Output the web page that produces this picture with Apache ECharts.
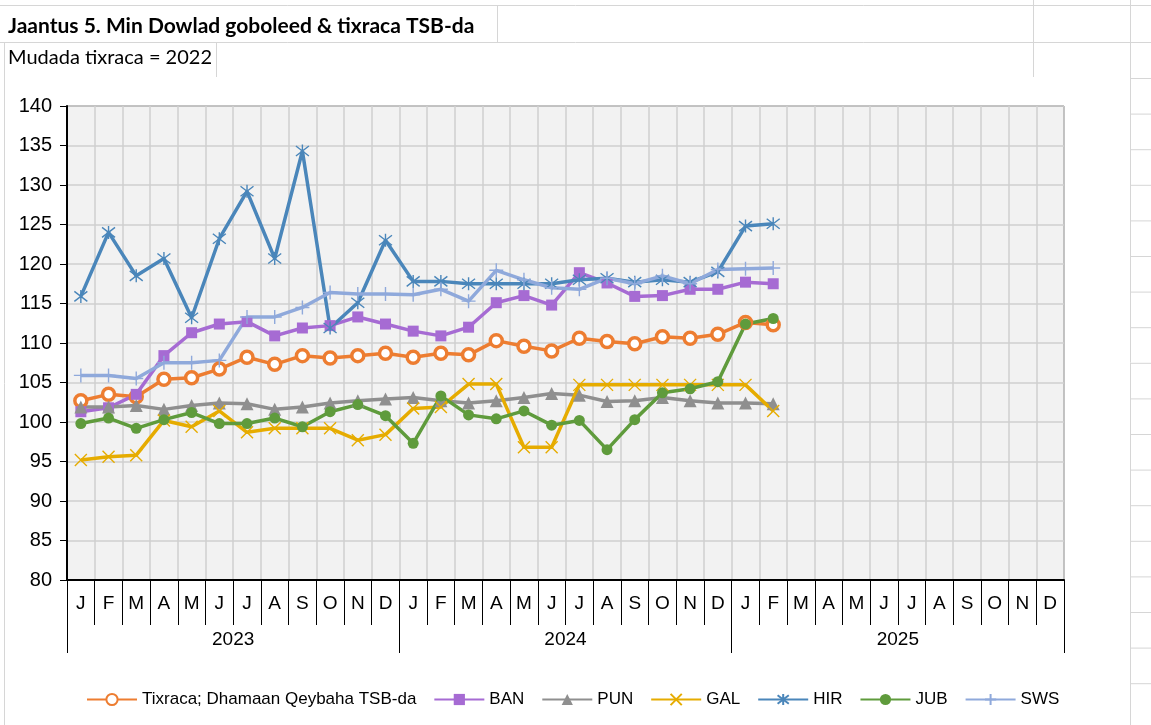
<!DOCTYPE html>
<html>
<head>
<meta charset="utf-8">
<script src="https://cdn.jsdelivr.net/npm/echarts@6/dist/echarts.min.js"></script>
<style>
    html, body { margin: 0; padding: 0; background: #fff; }
    #main { width: 1151px; height: 725px; }
</style>
</head>
<body>
<div id="main"></div>
<script>
    // categories
    const months = ['J', 'F', 'M', 'A', 'M', 'J', 'J', 'A', 'S', 'O', 'N', 'D',
        'J', 'F', 'M', 'A', 'M', 'J', 'J', 'A', 'S', 'O', 'N', 'D',
        'J', 'F', 'M', 'A', 'M', 'J', 'J', 'A', 'S', 'O', 'N', 'D'];
    const years = ['2023', '2024', '2025'];

    // series values, Jan 2023 - Feb 2025
    const tixraca = [102.7, 103.5, 103.2, 105.4, 105.6, 106.7, 108.2, 107.3, 108.4, 108.1, 108.4, 108.7,
        108.2, 108.7, 108.5, 110.3, 109.6, 109.0, 110.6, 110.2, 109.9, 110.8, 110.6, 111.1,
        112.6, 112.3];
    const ban = [101.3, 101.8, 103.5, 108.4, 111.3, 112.4, 112.7, 110.9, 111.9, 112.2, 113.3, 112.4,
        111.5, 110.9, 112.0, 115.1, 116.0, 114.8, 118.9, 117.6, 115.9, 116.0, 116.8, 116.8,
        117.7, 117.5];
    const pun = [101.9, 101.9, 102.1, 101.6, 102.1, 102.4, 102.3, 101.6, 101.9, 102.4, 102.7, 102.9,
        103.1, 102.7, 102.4, 102.7, 103.1, 103.6, 103.4, 102.6, 102.7, 103.1, 102.7, 102.4,
        102.4, 102.3];
    const gal = [95.2, 95.6, 95.8, 100.2, 99.4, 101.4, 98.7, 99.2, 99.2, 99.2, 97.7, 98.4,
        101.7, 101.9, 104.8, 104.8, 96.8, 96.8, 104.7, 104.7, 104.7, 104.7, 104.7, 104.7,
        104.7, 101.4];
    const hir = [115.9, 124.0, 118.5, 120.7, 113.2, 123.2, 129.2, 120.7, 134.3, 111.9, 115.1, 123.0,
        117.8, 117.8, 117.5, 117.5, 117.5, 117.5, 118.0, 118.2, 117.7, 118.0, 117.7, 119.0,
        124.8, 125.1];
    const jub = [99.8, 100.5, 99.2, 100.3, 101.2, 99.8, 99.8, 100.5, 99.4, 101.3, 102.2, 100.8,
        97.3, 103.3, 100.9, 100.4, 101.4, 99.6, 100.2, 96.5, 100.3, 103.7, 104.2, 105.1,
        112.4, 113.1];
    const sws = [105.9, 105.9, 105.5, 107.5, 107.5, 107.8, 113.3, 113.3, 114.5, 116.4, 116.2, 116.2,
        116.1, 116.8, 115.3, 119.2, 118.0, 117.0, 116.8, 118.2, 117.5, 118.5, 117.5, 119.3,
        119.4, 119.5];

    const yTicks = {min: 80, max: 140, interval: 5};

    // marker shapes drawn as strokes
    const crossPath = 'path://M0 0L10 10M10 0L0 10';
    const starPath = 'path://M0 0L10 10M10 0L0 10M5 -1.5L5 11.5';
    const plusPath = 'path://M0 5L10 5M5 0L5 10';

    function lineSeries(name, data, color, symbol, size, stroked) {
        return {
            name: name,
            type: 'line',
            data: data,
            symbol: symbol,
            symbolSize: size,
            showAllSymbol: true,
            lineStyle: {color: color, width: 3.5},
            itemStyle: stroked
                ? {color: 'none', borderColor: color, borderWidth: 1.4}
                : {color: color},
            emphasis: {disabled: true}
        };
    }

    // spreadsheet cell lines around the chart
    const sheetLines = [];
    function hline(x1, x2, y) {
        sheetLines.push({type: 'line', shape: {x1: x1, y1: y, x2: x2, y2: y},
            style: {stroke: '#d6d6d6', lineWidth: 1}, silent: true});
    }
    function vline(x, y1, y2) {
        sheetLines.push({type: 'line', shape: {x1: x, y1: y1, x2: x, y2: y2},
            style: {stroke: '#d6d6d6', lineWidth: 1}, silent: true});
    }
    hline(0, 1151, 5.5);
    hline(0, 1151, 42.5);
    vline(497.5, 5, 42);
    vline(216.5, 42, 77);
    vline(1033.5, 0, 77);
    vline(1130.5, 0, 725);
    vline(4.5, 42, 725);
    for (let k = 0; k < 18; k++) {
        hline(1131, 1151, 78.5 + k * 35.6);
    }

    let myChart = echarts.init(document.getElementById('main'));

    let orangeRing = lineSeries('Tixraca; Dhamaan Qeybaha TSB-da', tixraca, '#ED7D31', 'circle', 12, false);
    orangeRing.itemStyle = {color: '#ffffff', borderColor: '#ED7D31', borderWidth: 3.5};

    let option = {
        animation: false,
        backgroundColor: '#ffffff',
        textStyle: {fontFamily: 'Liberation Sans, Arial, sans-serif'},
        graphic: sheetLines.concat([
            {
                type: 'text', left: 8, top: 16,
                style: {
                    text: 'Jaantus 5. Min Dowlad goboleed & tixraca TSB-da',
                    font: 'bold 21px Lato, sans-serif', fill: '#000'
                }
            },
            {
                type: 'text', left: 8, top: 48,
                style: {
                    text: 'Mudada tixraca = 2022',
                    font: '20px Lato, sans-serif', fill: '#000'
                }
            }
        ]),
        legend: {
            left: 81,
            top: 686,
            itemWidth: 50,
            itemHeight: 14,
            itemGap: 17,
            textStyle: {fontSize: 17, color: '#000'},
            data: ['Tixraca; Dhamaan Qeybaha TSB-da', 'BAN', 'PUN', 'GAL', 'HIR', 'JUB', 'SWS']
        },
        grid: {
            left: 67,
            right: 87,
            top: 106,
            bottom: 145,
            show: true,
            backgroundColor: '#f2f2f2',
            borderColor: '#404040',
            borderWidth: 1
        },
        xAxis: [
            {
                type: 'category',
                position: 'bottom',
                data: months,
                boundaryGap: true,
                axisLine: {onZero: false, lineStyle: {color: '#000', width: 2}},
                axisTick: {show: true, interval: 0, length: 45, lineStyle: {color: '#000'}},
                axisLabel: {interval: 0, color: '#000', fontSize: 19, margin: 14},
                splitLine: {show: true, interval: 0, lineStyle: {color: '#cfcfcf', width: 1.5}}
            },
            {
                type: 'category',
                position: 'bottom',
                data: years,
                boundaryGap: true,
                axisLine: {show: false},
                axisTick: {show: true, length: 73, lineStyle: {color: '#000'}},
                axisLabel: {color: '#000', fontSize: 19, margin: 50},
                splitLine: {show: false}
            }
        ],
        yAxis: {
            type: 'value',
            min: yTicks.min,
            max: yTicks.max,
            interval: yTicks.interval,
            axisLine: {show: true, lineStyle: {color: '#000', width: 2}},
            axisTick: {show: true, length: 7, lineStyle: {color: '#000'}},
            axisLabel: {color: '#000', fontSize: 20, margin: 15},
            splitLine: {lineStyle: {color: '#cfcfcf', width: 1.5}}
        },
        series: [
            orangeRing,
            lineSeries('BAN', ban, '#A66BD3', 'rect', 11, false),
            lineSeries('PUN', pun, '#8F8F8F', 'triangle', 13, false),
            lineSeries('GAL', gal, '#E6AC00', crossPath, 12, true),
            lineSeries('HIR', hir, '#4A86BA', starPath, 13, true),
            lineSeries('JUB', jub, '#5F9B3C', 'circle', 11, false),
            lineSeries('SWS', sws, '#8FA9DB', plusPath, 14, true)
        ]
    };

    myChart.setOption(option);
</script>
</body>
</html>
